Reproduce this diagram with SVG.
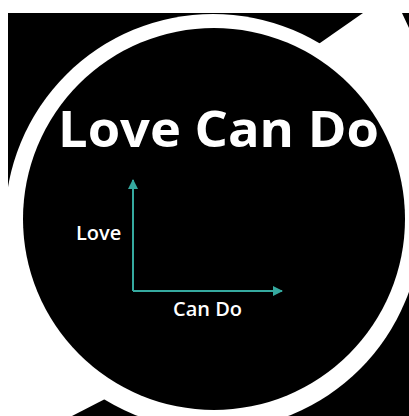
<svg xmlns="http://www.w3.org/2000/svg" width="409" height="416" viewBox="0 0 409 416">
  <style>
    .w { fill: #ffffff; }
    .k { fill: #000000; }
    .txt { font-family: "Open Sans", "Noto Sans", "DejaVu Sans", sans-serif; font-weight: 700; fill: #ffffff; }
    .lbl { font-weight: 600; }
    .axis { stroke: #35a99f; stroke-width: 2; fill: none; }
  </style>
  <defs>
    <marker id="ah" viewBox="0 0 10 10" refX="9" refY="5" markerWidth="5" markerHeight="5" orient="auto" markerUnits="strokeWidth">
      <path d="M0,0 L10,5 L0,10 Z" fill="#35a99f"/>
    </marker>
  </defs>
  <g id="background">
    <rect x="0" y="0" width="409" height="416" class="w"/>
    <rect x="8" y="13" width="401" height="403" class="k"/>
    <polygon class="w" points="363,13 402,13 409,28 409,250 277,73"/>
    <polygon class="w" points="0,190 120,190 107,398 72,416 0,416"/>
    <circle cx="213" cy="222" r="208" class="w"/>
    <circle cx="214" cy="219" r="191" class="k"/>
  </g>
  <g id="title">
    <text class="txt" x="58" y="147" font-size="50" textLength="321" lengthAdjust="spacingAndGlyphs">Love Can Do</text>
  </g>
  <g id="connectors">
    <path class="axis" d="M133,291 L133,180" marker-end="url(#ah)"/>
    <path class="axis" d="M133,291 L282,291" marker-end="url(#ah)"/>
  </g>
  <g id="label-love">
    <text class="txt lbl" x="76" y="240" font-size="20">Love</text>
  </g>
  <g id="label-cando">
    <text class="txt lbl" x="173" y="316" font-size="20">Can Do</text>
  </g>
</svg>
